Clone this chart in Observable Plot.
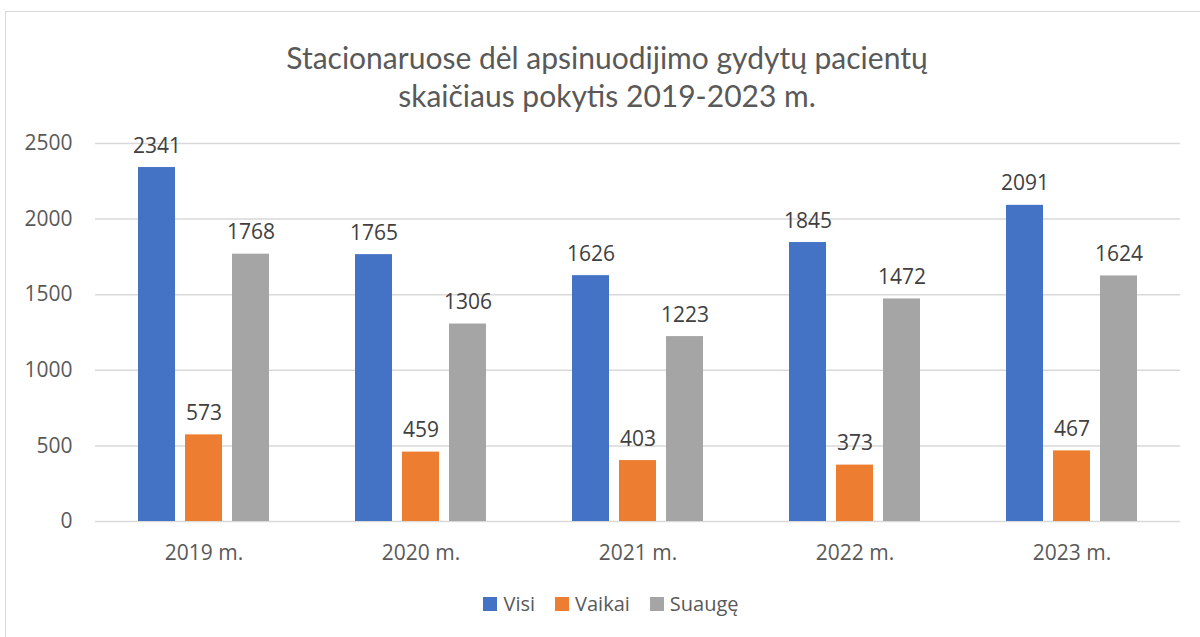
<!DOCTYPE html>
<html>
<head>
<meta charset="utf-8">
<script src="https://cdn.jsdelivr.net/npm/d3@7"></script>
<script src="https://cdn.jsdelivr.net/npm/@observablehq/plot@0.6"></script>
<style>
  html, body { margin: 0; padding: 0; background: #fff; }
  #wrap { position: relative; width: 1200px; height: 637px; overflow: hidden; font-family: "Open Sans", Lato, sans-serif; }
  #frame { position: absolute; left: 5px; top: 11px; width: 1220px; height: 700px; border: 1px solid #d9d9d9; box-sizing: border-box; }
  #title { position: absolute; left: 0; top: 38px; width: 1214px; text-align: center; font-family: Lato, sans-serif; font-size: 30px; line-height: 38px; color: #595959; font-weight: 400; }
  #chart { position: absolute; left: 0; top: 120px; }
  #legend { position: absolute; left: 0; top: 590px; width: 1222px; display: flex; justify-content: center; gap: 20px; font-size: 20px; color: #595959; }
  .item { display: flex; align-items: center; gap: 6px; }
  .sw { width: 14px; height: 14px; display: inline-block; }
</style>
</head>
<body>
<div id="wrap">
  <div id="frame"></div>
  <div id="title">Stacionaruose dėl apsinuodijimo gydytų pacientų<br>skaičiaus pokytis 2019-2023 m.</div>
  <div id="chart"></div>
  <div id="legend"></div>
</div>
<script>
const years = ["2019 m.", "2020 m.", "2021 m.", "2022 m.", "2023 m."];
const seriesNames = ["Visi", "Vaikai", "Suaugę"];
const visi = [2341, 1765, 1626, 1845, 2091];
const vaikai = [573, 459, 403, 373, 467];
const suauge = [1768, 1306, 1223, 1472, 1624];
const colors = ["#4472C4", "#ED7D31", "#A5A5A5"];
const yTicks = [0, 500, 1000, 1500, 2000, 2500];

const seriesValues = [visi, vaikai, suauge];
const data = [];
years.forEach((yr, i) => {
  seriesNames.forEach((s, j) => {
    data.push({year: yr, series: s, value: seriesValues[j][i]});
  });
});

const chart = Plot.plot({
  width: 1200,
  height: 460,
  marginLeft: 94,
  marginRight: 19,
  marginTop: 23,
  marginBottom: 59,
  style: {fontFamily: "'Open Sans', Lato, sans-serif", fontSize: "21px", color: "#595959", background: "transparent"},
  fx: {domain: years, padding: 0, label: null},
  x: {domain: seriesNames, paddingInner: 0.2083, paddingOuter: 0.869, axis: null},
  y: {domain: [0, 2500], ticks: yTicks, label: null},
  color: {domain: seriesNames, range: colors},
  marks: [
    Plot.ruleY(yTicks, {stroke: "#d9d9d9", strokeWidth: 1.5}),
    Plot.axisY({ticks: yTicks, tickFormat: d => String(d), tickSize: 0, tickPadding: 23, label: null, fill: "#595959", fontSize: 21}),
    Plot.axisFx({anchor: "bottom", tickSize: 0, tickPadding: 24, label: null, fill: "#595959", fontSize: 21}),
    Plot.barY(data, {fx: "year", x: "series", y: "value", fill: "series"}),
    Plot.text(data, {fx: "year", x: "series", y: "value", text: d => String(d.value), lineAnchor: "bottom", dy: -15, fill: "#404040", fontSize: 21})
  ]
});
document.getElementById("chart").appendChild(chart);

const legend = document.getElementById("legend");
seriesNames.forEach((s, i) => {
  const it = document.createElement("div");
  it.className = "item";
  const sw = document.createElement("span");
  sw.className = "sw";
  sw.style.background = colors[i];
  const t = document.createElement("span");
  t.textContent = s;
  it.appendChild(sw);
  it.appendChild(t);
  legend.appendChild(it);
});
</script>
</body>
</html>
